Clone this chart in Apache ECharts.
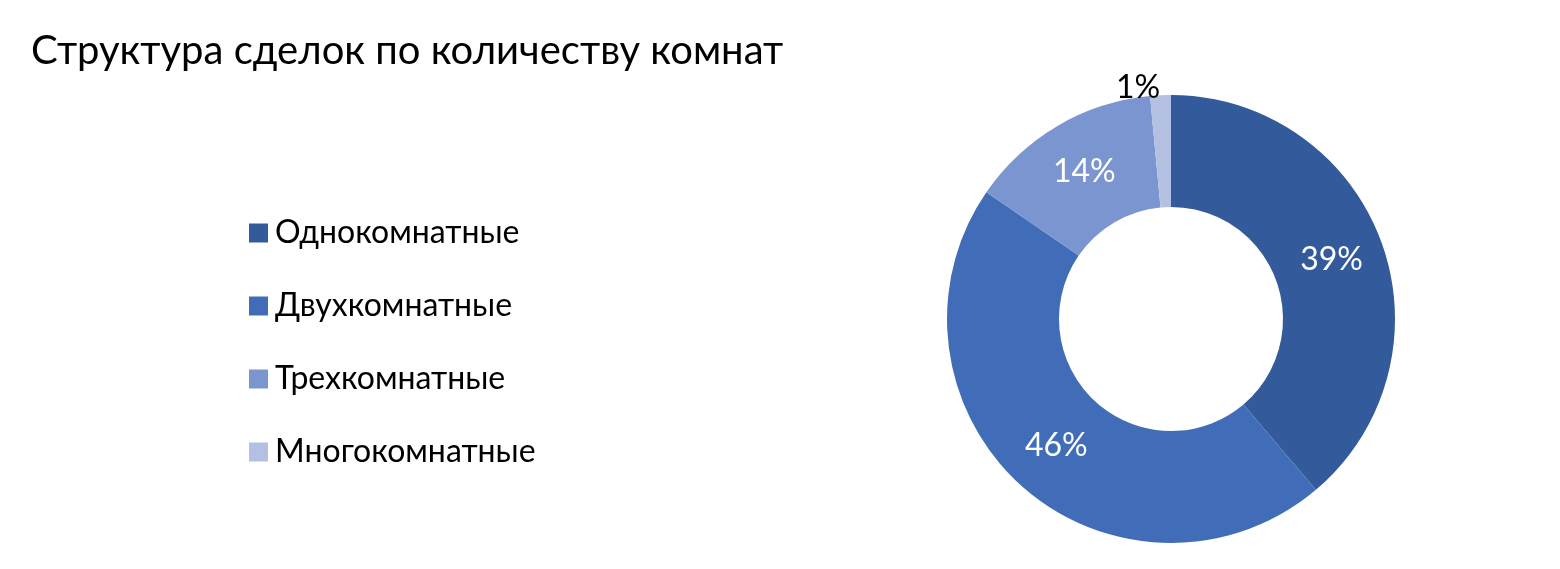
<!DOCTYPE html>
<html><head><meta charset="utf-8">
<script src="https://cdn.jsdelivr.net/npm/echarts@6/dist/echarts.min.js"></script>
<style>html,body{margin:0;padding:0;background:#fff}#c{width:1560px;height:569px}</style>
</head><body><div id="c"></div>
<script>
const categories = ["Однокомнатные","Двухкомнатные","Трехкомнатные","Многокомнатные"];
const values = [39, 46, 14, 1.5];
const labels = ["39%","46%","14%","1%"];
const colors = ["#335A9A","#416DB8","#7B95D0","#B4C0E2"];
const chart = echarts.init(document.getElementById('c'));
const font = "Lato, 'Noto Sans', sans-serif";
chart.setOption({
  animation:false,
  title:{text:"Структура сделок по количеству комнат",left:26,top:26,textStyle:{fontFamily:font,fontSize:40,fontWeight:'normal',color:'#000'}},
  legend:{orient:'vertical',left:244,top:212,itemWidth:19,itemHeight:19,itemGap:41,icon:'rect',
    textStyle:{fontFamily:font,fontSize:32,color:'#000',padding:[0,0,0,2]},data:categories},
  series:[{type:'pie',center:[1171,319],radius:[112,224],startAngle:90,clockwise:true,
    label:{position:'inside',color:'#fff',fontFamily:font,fontSize:32,formatter:p=>labels[p.dataIndex]},
    labelLine:{show:false},
    itemStyle:{borderColor:'#fff',borderWidth:0},
    data:categories.map((n,i)=>{
      const d={name:n,value:values[i],itemStyle:{color:colors[i]}};
      if(i===3){d.label={position:'outside',color:'#000',distanceToLabelLine:0};d.labelLine={show:false,length:8,length2:0};}
      return d;})
  }]
});
</script></body></html>
